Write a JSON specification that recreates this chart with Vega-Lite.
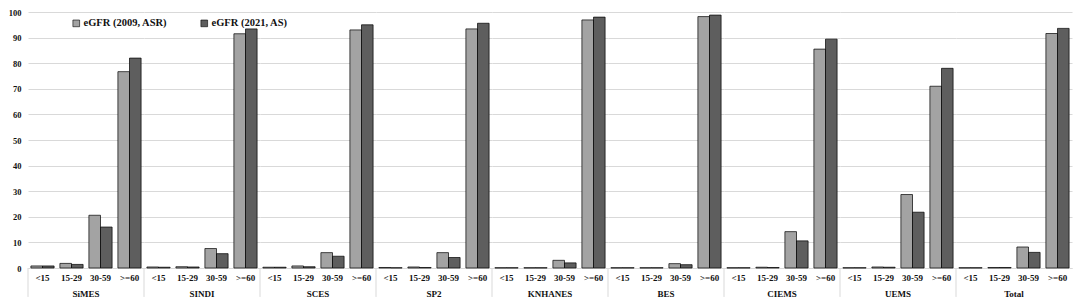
{
  "$schema": "https://vega.github.io/schema/vega-lite/v6.json",
  "padding": {"top": 8, "left": 8, "right": 6, "bottom": 2},
  "background": "#ffffff",
  "bounds": "flush",
  "data": {"values": [
    {"study": "SiMES", "cat": "<15", "series": "eGFR (2009, ASR)", "pct": 0.8},
    {"study": "SiMES", "cat": "<15", "series": "eGFR (2021, AS)", "pct": 0.8},
    {"study": "SiMES", "cat": "15-29", "series": "eGFR (2009, ASR)", "pct": 1.8},
    {"study": "SiMES", "cat": "15-29", "series": "eGFR (2021, AS)", "pct": 1.4},
    {"study": "SiMES", "cat": "30-59", "series": "eGFR (2009, ASR)", "pct": 20.6},
    {"study": "SiMES", "cat": "30-59", "series": "eGFR (2021, AS)", "pct": 16.0},
    {"study": "SiMES", "cat": ">=60", "series": "eGFR (2009, ASR)", "pct": 76.7},
    {"study": "SiMES", "cat": ">=60", "series": "eGFR (2021, AS)", "pct": 82.0},
    {"study": "SINDI", "cat": "<15", "series": "eGFR (2009, ASR)", "pct": 0.4},
    {"study": "SINDI", "cat": "<15", "series": "eGFR (2021, AS)", "pct": 0.3},
    {"study": "SINDI", "cat": "15-29", "series": "eGFR (2009, ASR)", "pct": 0.5},
    {"study": "SINDI", "cat": "15-29", "series": "eGFR (2021, AS)", "pct": 0.4},
    {"study": "SINDI", "cat": "30-59", "series": "eGFR (2009, ASR)", "pct": 7.6},
    {"study": "SINDI", "cat": "30-59", "series": "eGFR (2021, AS)", "pct": 5.6},
    {"study": "SINDI", "cat": ">=60", "series": "eGFR (2009, ASR)", "pct": 91.5},
    {"study": "SINDI", "cat": ">=60", "series": "eGFR (2021, AS)", "pct": 93.4},
    {"study": "SCES", "cat": "<15", "series": "eGFR (2009, ASR)", "pct": 0.3},
    {"study": "SCES", "cat": "<15", "series": "eGFR (2021, AS)", "pct": 0.3},
    {"study": "SCES", "cat": "15-29", "series": "eGFR (2009, ASR)", "pct": 0.8},
    {"study": "SCES", "cat": "15-29", "series": "eGFR (2021, AS)", "pct": 0.5},
    {"study": "SCES", "cat": "30-59", "series": "eGFR (2009, ASR)", "pct": 6.0},
    {"study": "SCES", "cat": "30-59", "series": "eGFR (2021, AS)", "pct": 4.6},
    {"study": "SCES", "cat": ">=60", "series": "eGFR (2009, ASR)", "pct": 93.0},
    {"study": "SCES", "cat": ">=60", "series": "eGFR (2021, AS)", "pct": 95.0},
    {"study": "SP2", "cat": "<15", "series": "eGFR (2009, ASR)", "pct": 0.2},
    {"study": "SP2", "cat": "<15", "series": "eGFR (2021, AS)", "pct": 0.1},
    {"study": "SP2", "cat": "15-29", "series": "eGFR (2009, ASR)", "pct": 0.4},
    {"study": "SP2", "cat": "15-29", "series": "eGFR (2021, AS)", "pct": 0.2},
    {"study": "SP2", "cat": "30-59", "series": "eGFR (2009, ASR)", "pct": 6.0},
    {"study": "SP2", "cat": "30-59", "series": "eGFR (2021, AS)", "pct": 4.1},
    {"study": "SP2", "cat": ">=60", "series": "eGFR (2009, ASR)", "pct": 93.4},
    {"study": "SP2", "cat": ">=60", "series": "eGFR (2021, AS)", "pct": 95.6},
    {"study": "KNHANES", "cat": "<15", "series": "eGFR (2009, ASR)", "pct": 0.1},
    {"study": "KNHANES", "cat": "<15", "series": "eGFR (2021, AS)", "pct": 0.1},
    {"study": "KNHANES", "cat": "15-29", "series": "eGFR (2009, ASR)", "pct": 0.1},
    {"study": "KNHANES", "cat": "15-29", "series": "eGFR (2021, AS)", "pct": 0.1},
    {"study": "KNHANES", "cat": "30-59", "series": "eGFR (2009, ASR)", "pct": 3.0},
    {"study": "KNHANES", "cat": "30-59", "series": "eGFR (2021, AS)", "pct": 2.0},
    {"study": "KNHANES", "cat": ">=60", "series": "eGFR (2009, ASR)", "pct": 96.9},
    {"study": "KNHANES", "cat": ">=60", "series": "eGFR (2021, AS)", "pct": 98.0},
    {"study": "BES", "cat": "<15", "series": "eGFR (2009, ASR)", "pct": 0.1},
    {"study": "BES", "cat": "<15", "series": "eGFR (2021, AS)", "pct": 0.1},
    {"study": "BES", "cat": "15-29", "series": "eGFR (2009, ASR)", "pct": 0.1},
    {"study": "BES", "cat": "15-29", "series": "eGFR (2021, AS)", "pct": 0.1},
    {"study": "BES", "cat": "30-59", "series": "eGFR (2009, ASR)", "pct": 1.7},
    {"study": "BES", "cat": "30-59", "series": "eGFR (2021, AS)", "pct": 1.3},
    {"study": "BES", "cat": ">=60", "series": "eGFR (2009, ASR)", "pct": 98.2},
    {"study": "BES", "cat": ">=60", "series": "eGFR (2021, AS)", "pct": 98.8},
    {"study": "CIEMS", "cat": "<15", "series": "eGFR (2009, ASR)", "pct": 0.1},
    {"study": "CIEMS", "cat": "<15", "series": "eGFR (2021, AS)", "pct": 0.1},
    {"study": "CIEMS", "cat": "15-29", "series": "eGFR (2009, ASR)", "pct": 0.3},
    {"study": "CIEMS", "cat": "15-29", "series": "eGFR (2021, AS)", "pct": 0.2},
    {"study": "CIEMS", "cat": "30-59", "series": "eGFR (2009, ASR)", "pct": 14.2},
    {"study": "CIEMS", "cat": "30-59", "series": "eGFR (2021, AS)", "pct": 10.6},
    {"study": "CIEMS", "cat": ">=60", "series": "eGFR (2009, ASR)", "pct": 85.5},
    {"study": "CIEMS", "cat": ">=60", "series": "eGFR (2021, AS)", "pct": 89.4},
    {"study": "UEMS", "cat": "<15", "series": "eGFR (2009, ASR)", "pct": 0.1},
    {"study": "UEMS", "cat": "<15", "series": "eGFR (2021, AS)", "pct": 0.1},
    {"study": "UEMS", "cat": "15-29", "series": "eGFR (2009, ASR)", "pct": 0.4},
    {"study": "UEMS", "cat": "15-29", "series": "eGFR (2021, AS)", "pct": 0.3},
    {"study": "UEMS", "cat": "30-59", "series": "eGFR (2009, ASR)", "pct": 28.7},
    {"study": "UEMS", "cat": "30-59", "series": "eGFR (2021, AS)", "pct": 21.8},
    {"study": "UEMS", "cat": ">=60", "series": "eGFR (2009, ASR)", "pct": 71.0},
    {"study": "UEMS", "cat": ">=60", "series": "eGFR (2021, AS)", "pct": 78.0},
    {"study": "Total", "cat": "<15", "series": "eGFR (2009, ASR)", "pct": 0.1},
    {"study": "Total", "cat": "<15", "series": "eGFR (2021, AS)", "pct": 0.1},
    {"study": "Total", "cat": "15-29", "series": "eGFR (2009, ASR)", "pct": 0.2},
    {"study": "Total", "cat": "15-29", "series": "eGFR (2021, AS)", "pct": 0.2},
    {"study": "Total", "cat": "30-59", "series": "eGFR (2009, ASR)", "pct": 8.2},
    {"study": "Total", "cat": "30-59", "series": "eGFR (2021, AS)", "pct": 6.1},
    {"study": "Total", "cat": ">=60", "series": "eGFR (2009, ASR)", "pct": 91.6},
    {"study": "Total", "cat": ">=60", "series": "eGFR (2021, AS)", "pct": 93.6}
  ]},
  "facet": {
    "column": {
      "field": "study", "type": "nominal",
      "sort": ["SiMES", "SINDI", "SCES", "SP2", "KNHANES", "BES", "CIEMS", "UEMS", "Total"],
      "header": {
        "title": null, "labelOrient": "bottom", "labelFont": "Liberation Serif",
        "labelFontWeight": "bold", "labelFontSize": 9, "labelColor": "#111", "labelPadding": 8
      }
    }
  },
  "spacing": 0,
  "resolve": {"scale": {"x": "shared"}},
  "spec": {
    "width": 116,
    "height": 256,
    "layer": [
      {
        "mark": {"type": "bar", "stroke": "#000", "strokeWidth": 0.7},
        "encoding": {
          "x": {
            "field": "cat", "type": "nominal", "sort": ["<15", "15-29", "30-59", ">=60"],
            "scale": {"paddingInner": 0.2, "paddingOuter": 0.1},
            "axis": {
              "title": null, "labelAngle": 0, "ticks": false, "domainColor": "#d9d9d9",
              "labelFont": "Liberation Serif", "labelFontWeight": "bold", "labelFontSize": 9,
              "labelColor": "#111", "labelPadding": 5
            }
          },
          "xOffset": {"field": "series", "type": "nominal", "sort": ["eGFR (2009, ASR)", "eGFR (2021, AS)"]},
          "y": {
            "field": "pct", "type": "quantitative",
            "scale": {"domain": [0, 100]},
            "axis": {
              "title": null, "values": [0, 10, 20, 30, 40, 50, 60, 70, 80, 90, 100],
              "domain": false, "ticks": false, "gridColor": "#d9d9d9", "gridWidth": 1,
              "labelFont": "Liberation Serif", "labelFontWeight": "bold", "labelFontSize": 8.5,
              "labelColor": "#111", "labelPadding": 7
            }
          },
          "color": {
            "field": "series", "type": "nominal",
            "scale": {"domain": ["eGFR (2009, ASR)", "eGFR (2021, AS)"], "range": ["#a3a3a3", "#5e5e5e"]},
            "legend": {
              "title": null, "orient": "none", "legendX": 43, "legendY": 6, "direction": "horizontal",
              "symbolType": "square", "symbolSize": 45, "symbolStrokeColor": "#000", "symbolStrokeWidth": 0.6,
              "labelFont": "Liberation Serif", "labelFontWeight": "bold", "labelFontSize": 10.5,
              "labelColor": "#111", "columnPadding": 31, "labelOffset": 2
            }
          }
        }
      },
      {
        "transform": [{"filter": "datum.cat === '<15' && datum.series === 'eGFR (2009, ASR)'"}],
        "mark": {"type": "rule", "color": "#d9d9d9", "strokeWidth": 1, "clip": false},
        "encoding": {
          "x": {"datum": "<15", "bandPosition": -0.125},
          "y": {"datum": 0, "type": "quantitative", "axis": {
              "title": null, "values": [0, 10, 20, 30, 40, 50, 60, 70, 80, 90, 100],
              "domain": false, "ticks": false, "gridColor": "#d9d9d9", "gridWidth": 1,
              "labelFont": "Liberation Serif", "labelFontWeight": "bold", "labelFontSize": 8.5,
              "labelColor": "#111", "labelPadding": 7
            }},
          "y2": {"datum": -11.3}
        }
      }
    ]
  },
  "config": {"view": {"stroke": null}}
}
